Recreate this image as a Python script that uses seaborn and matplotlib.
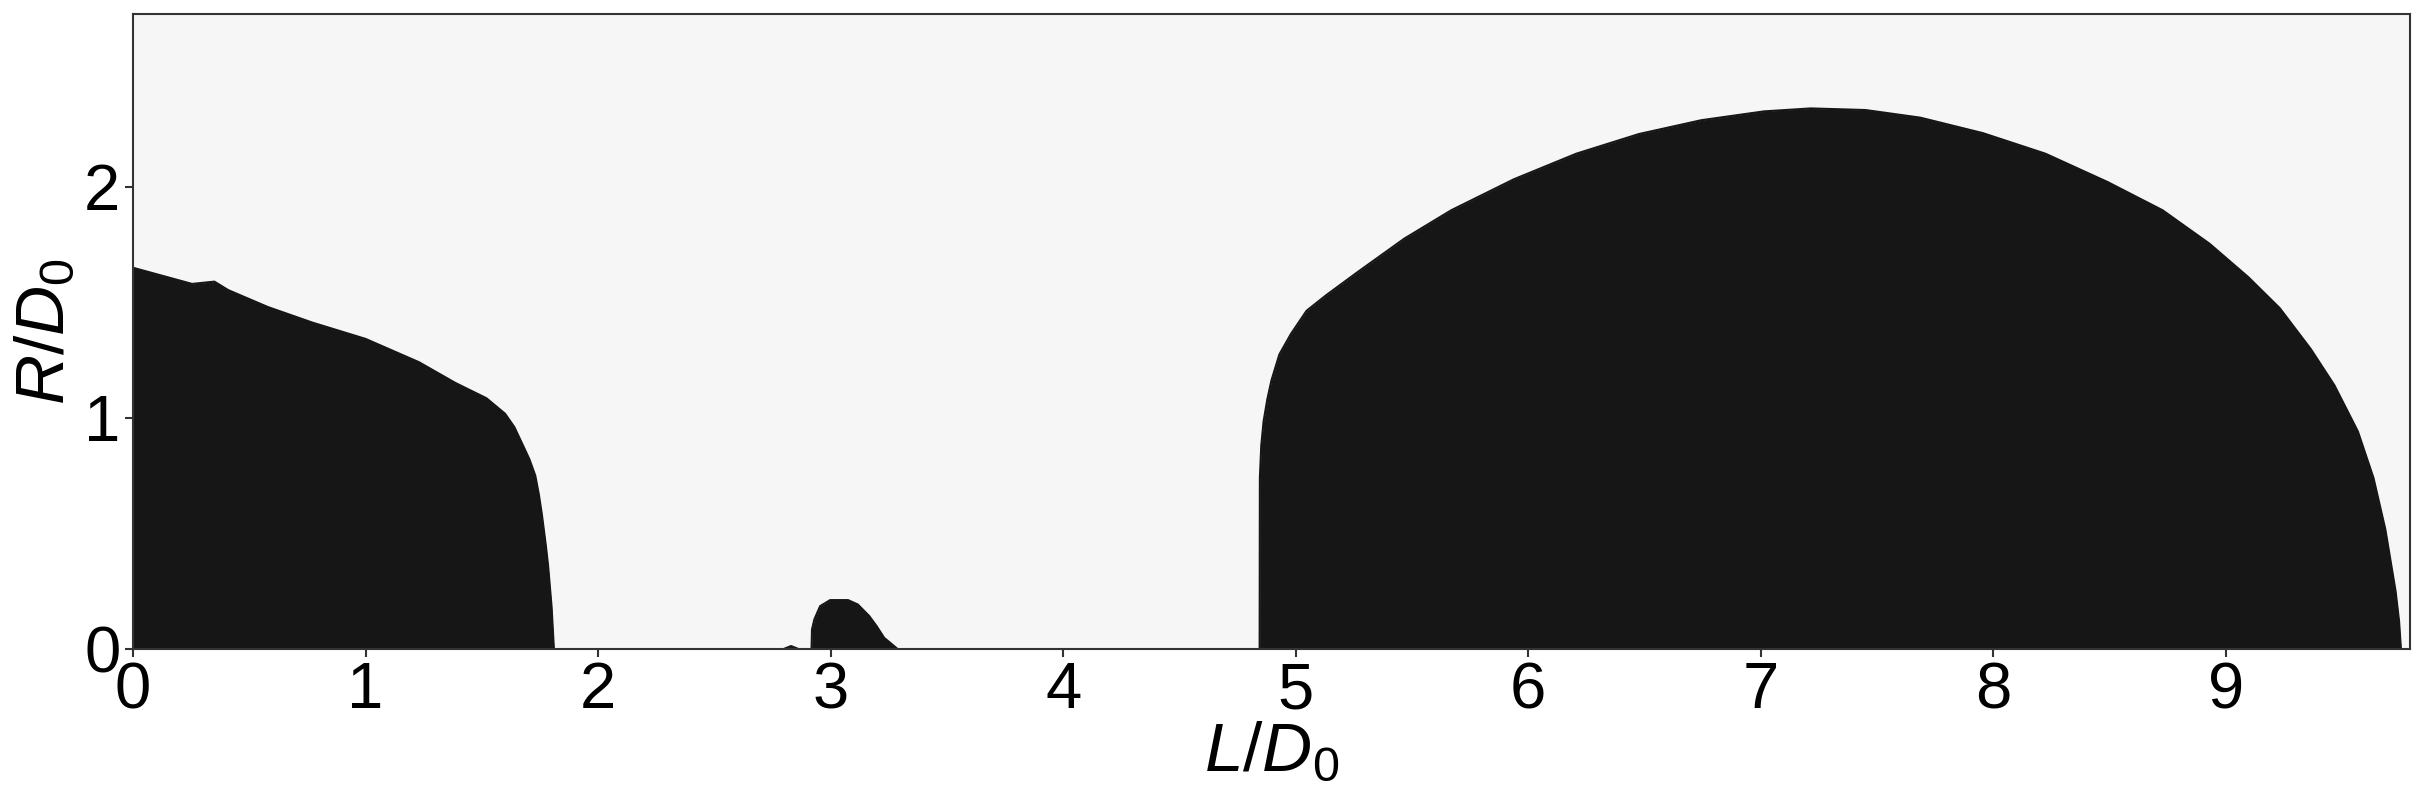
import numpy as np
import matplotlib
matplotlib.use("Agg")
import matplotlib.pyplot as plt
import seaborn as sns

# upper boundary R/D0 of the black region
L_left = [0.0, 0.0, 0.254, 0.35, 0.41, 0.58, 0.77, 1.0, 1.23, 1.385, 1.52, 1.60,
          1.64, 1.675, 1.705, 1.73, 1.745, 1.758, 1.775, 1.785, 1.80, 1.81]
R_left = [0.0, 1.65, 1.58, 1.59, 1.553, 1.48, 1.413, 1.342, 1.241, 1.152, 1.085, 1.018,
          0.96, 0.885, 0.82, 0.75, 0.67, 0.584, 0.45, 0.361, 0.183, 0.0]

L_speck = [2.80, 2.83, 2.86]
R_speck = [0.0, 0.012, 0.0]

L_bump = [2.918, 2.92, 2.93, 2.955, 2.998, 3.075, 3.117, 3.166, 3.198, 3.23, 3.287]
R_bump = [0.0, 0.084, 0.127, 0.185, 0.211, 0.211, 0.192, 0.142, 0.098, 0.048, 0.0]

L_dome = [4.845, 4.846, 4.852, 4.862, 4.878, 4.896, 4.93, 4.98, 5.047, 5.131, 5.266, 5.467, 5.669,
          5.938, 6.207, 6.476, 6.745, 7.013, 7.215, 7.45, 7.686, 7.955, 8.224, 8.492,
          8.728, 8.93, 9.097, 9.232, 9.366, 9.467, 9.568, 9.635, 9.686, 9.73, 9.745, 9.753]
R_dome = [0.0, 0.74, 0.88, 0.985, 1.08, 1.163, 1.275, 1.364, 1.464, 1.531, 1.631, 1.776, 1.899,
          2.033, 2.144, 2.229, 2.289, 2.327, 2.340, 2.333, 2.30, 2.233, 2.144, 2.021,
          1.899, 1.754, 1.609, 1.475, 1.297, 1.141, 0.941, 0.74, 0.517, 0.25, 0.12, 0.0]

x_ticks = [0, 1, 2, 3, 4, 5, 6, 7, 8, 9]
y_ticks = [0, 1, 2]

sns.set_theme(style="ticks")
plt.rcParams['font.family'] = ['Liberation Sans', 'DejaVu Sans']
plt.rcParams['mathtext.fontset'] = 'custom'
plt.rcParams['mathtext.rm'] = 'Liberation Sans'
plt.rcParams['mathtext.it'] = 'Liberation Sans:italic'
plt.rcParams['text.color'] = 'black'
plt.rcParams['axes.labelcolor'] = 'black'
plt.rcParams['xtick.labelcolor'] = 'black'
plt.rcParams['ytick.labelcolor'] = 'black'

fill_col = '#161616'
bg_col = '#f6f6f6'

fig = plt.figure(figsize=(24.27, 8.07), dpi=100)
ax = fig.add_axes([0.0548, 0.196, 0.938, 0.787])
ax.set_facecolor(bg_col)

for xs, ys in [(L_left, R_left), (L_speck, R_speck), (L_bump, R_bump), (L_dome, R_dome)]:
    ax.fill_between(xs, 0, ys, color=fill_col, linewidth=0)
    sns.lineplot(x=xs, y=ys, ax=ax, color=fill_col, linewidth=1.5, sort=False,
                 estimator=None)

ax.set_xlim(0, 9.79)
ax.set_ylim(0, 2.75)
ax.set_xticks(x_ticks)
ax.set_yticks(y_ticks)
ax.tick_params(axis='both', labelsize=47, length=6, width=1.5, color='#333333',
               direction='out', pad=3)
for s in ax.spines.values():
    s.set_color('#333333')
    s.set_linewidth(1.5)

ax.set_xlabel('$L/D_0$', fontsize=50, labelpad=0)
ax.set_ylabel('$R/D_0$', fontsize=50, labelpad=4)

fig.savefig('out.png', dpi=100)
